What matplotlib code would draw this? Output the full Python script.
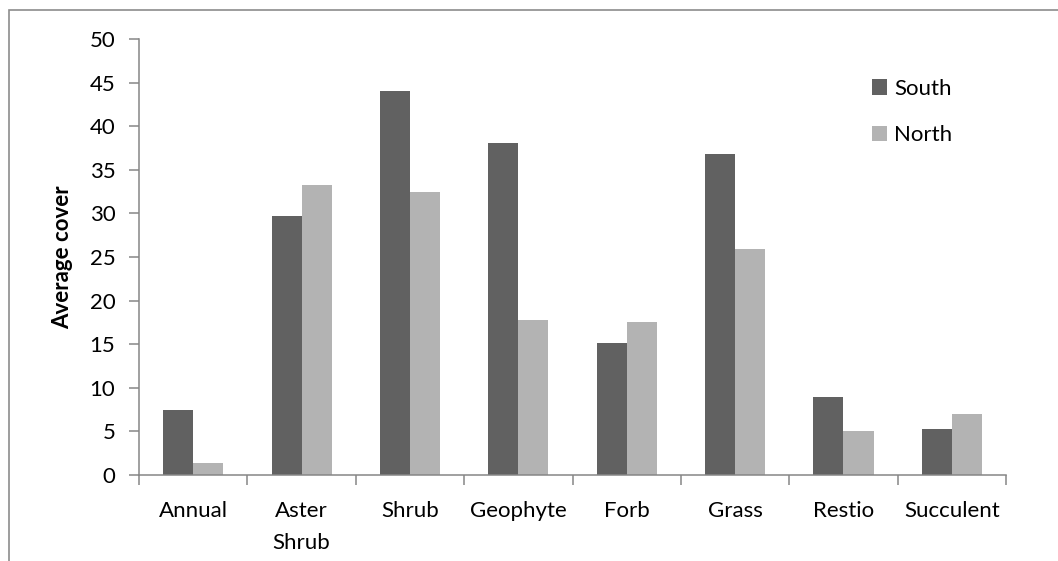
import matplotlib.pyplot as plt
import numpy as np
from matplotlib.patches import Rectangle

# Data
categories = ['Annual', 'Aster\nShrub', 'Shrub', 'Geophyte', 'Forb', 'Grass', 'Restio', 'Succulent']
south = [7.5, 29.7, 44.0, 38.1, 15.1, 36.8, 8.9, 5.3]
north = [1.4, 33.3, 32.5, 17.8, 17.6, 25.9, 5.0, 7.0]

plt.rcParams['font.family'] = ['Lato', 'DejaVu Sans']
fs = 16

fig = plt.figure(figsize=(10.58, 5.61), dpi=100)
ax = fig.add_axes([0.1314, 0.1533, 0.9509 - 0.1314, 0.9305 - 0.1533])

# outer chart border (top and left visible)
fig.add_artist(Rectangle((9 / 1058, -0.2), 1.5, 1.2 - 10 / 561,
                         transform=fig.transFigure, fill=False,
                         edgecolor='#8c8c8c', linewidth=1.2))

x = np.arange(len(categories))
w = 0.277
ax.bar(x - w / 2, south, w, color='#616161', label='South')
ax.bar(x + w / 2, north, w, color='#b3b3b3', label='North')

ax.set_xlim(-0.5, len(categories) - 0.5)
ax.set_ylim(0, 50)
ax.set_yticks(range(0, 51, 5))

# tick marks at category boundaries, labels at centres
ax.set_xticks(np.arange(-0.5, len(categories), 1))
ax.set_xticklabels([])
ax.set_xticks(x, minor=True)
ax.set_xticklabels(categories, minor=True, fontsize=fs, linespacing=1.75, va='top')
ax.tick_params(axis='x', which='minor', length=0, pad=19)
ax.tick_params(axis='x', which='major', length=7, width=1.1, color='#868686', direction='out')
ax.tick_params(axis='y', length=7, width=1.1, color='#868686', labelsize=fs, pad=10)

for s in ['top', 'right']:
    ax.spines[s].set_visible(False)
for s in ['left', 'bottom']:
    ax.spines[s].set_color('#868686')
    ax.spines[s].set_linewidth(1.1)

ax.set_ylabel('Average cover', fontsize=fs, fontweight='bold', labelpad=12)

ax.legend(loc='upper left', bbox_to_anchor=(0.822, 0.955), frameon=False,
          fontsize=fs, handlelength=0.7, handleheight=0.7, handletextpad=0.3,
          labelspacing=1.2)

plt.savefig('out.png')
